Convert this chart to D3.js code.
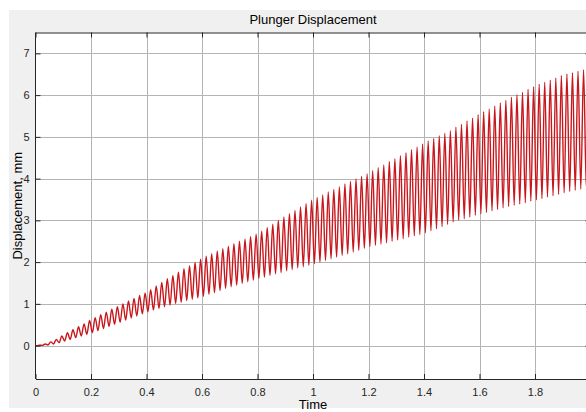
<!DOCTYPE html>
<html><head><meta charset="utf-8">
<script src="https://cdn.jsdelivr.net/npm/d3@7/dist/d3.min.js"></script>
<style>html,body{margin:0;padding:0;background:#fff;overflow:hidden}</style>
</head><body><svg id="c" width="586" height="412"></svg>
<script>
const title = "Plunger Displacement";
const xLabel = "Time";
const yLabel = "Displacement, mm";
const xTicks = [0, 0.2, 0.4, 0.6, 0.8, 1, 1.2, 1.4, 1.6, 1.8, 2];
const xTickLabels = ["0","0.2","0.4","0.6","0.8","1","1.2","1.4","1.6","1.8",""];
const yTicks = [0,1,2,3,4,5,6,7];
const xDomain = [0, 2];
const yDomain = [-0.8, 7.5];
// oscillation: period (s) and first trough/peak times
const period = 0.02;
const firstTrough = 0.005;
const firstPeak = 0.015;
// peak values read per cycle
const peaks = [
0.01,0.04,0.09,0.15,0.23, 0.31,0.38,0.45,0.52,0.60, 0.67,0.74,0.80,0.87,0.93, 1.00,1.07,1.13,1.20,1.26,
1.34,1.43,1.51,1.60,1.68, 1.76,1.84,1.91,1.99,2.07, 2.14,2.20,2.26,2.32,2.38, 2.44,2.50,2.55,2.61,2.67,
2.74,2.83,2.91,3.00,3.08, 3.16,3.24,3.32,3.40,3.48, 3.55,3.61,3.68,3.74,3.80, 3.87,3.93,3.99,4.05,4.11,
4.19,4.26,4.33,4.41,4.48, 4.55,4.62,4.69,4.76,4.83, 4.90,4.96,5.03,5.09,5.15, 5.23,5.30,5.38,5.45,5.53,
5.60,5.67,5.74,5.81,5.88, 5.95,6.01,6.07,6.14,6.20, 6.26,6.31,6.36,6.41,6.47, 6.51,6.54,6.57,6.61,6.64];
// trough values read per cycle
const troughs = [
0.00,0.005,0.015,0.04,0.07, 0.11,0.15,0.19,0.23,0.27, 0.31,0.36,0.41,0.46,0.51, 0.56,0.61,0.66,0.71,0.76,
0.81,0.85,0.89,0.93,0.97, 1.01,1.04,1.08,1.11,1.14, 1.18,1.23,1.27,1.32,1.37, 1.41,1.45,1.49,1.53,1.57,
1.61,1.64,1.68,1.72,1.75, 1.79,1.82,1.86,1.89,1.92, 1.96,2.00,2.04,2.08,2.12, 2.16,2.20,2.24,2.28,2.33,
2.37,2.40,2.43,2.46,2.50, 2.53,2.56,2.60,2.63,2.66, 2.70,2.75,2.80,2.85,2.90, 2.96,3.00,3.04,3.08,3.12,
3.16,3.19,3.23,3.26,3.30, 3.33,3.36,3.39,3.42,3.46, 3.49,3.52,3.56,3.59,3.62, 3.66,3.69,3.72,3.75,3.78];

const pts = [[0,0]];
troughs.forEach((v,i)=>{
  pts.push([firstTrough + i*period, v]);
  pts.push([firstPeak + i*period, peaks[i]]);
});

const svg = d3.select("#c");
const W = 586, H = 412;
const m = {l:35.5, t:32.5, r:590.5, b:379};

svg.append("rect").attr("x",9).attr("y",10).attr("width",W-9).attr("height",398).attr("fill","#f0f0f0");

const x = d3.scaleLinear().domain(xDomain).range([m.l, m.r]);
const y = d3.scaleLinear().domain(yDomain).range([m.b, m.t]);

svg.append("rect").attr("x",m.l).attr("y",m.t).attr("width",m.r-m.l).attr("height",m.b-m.t).attr("fill","#fff");

const grid = svg.append("g").attr("stroke","#b4b4b4").attr("stroke-width",1);
xTicks.slice(1,-1).forEach(t=>grid.append("line").attr("x1",Math.round(x(t))+0.5).attr("x2",Math.round(x(t))+0.5).attr("y1",m.t).attr("y2",m.b));
yTicks.forEach(t=>grid.append("line").attr("y1",Math.round(y(t))+0.5).attr("y2",Math.round(y(t))+0.5).attr("x1",m.l).attr("x2",m.r));

const line = d3.line().x(d=>x(d[0])).y(d=>y(d[1])).curve(d3.curveMonotoneX);
svg.append("path").datum(pts).attr("d",line).attr("fill","none").attr("stroke","#c8161c").attr("stroke-width",1.4);

const font = "Liberation Sans, Arial, Helvetica, sans-serif";
const xAx = d3.axisBottom(x).tickValues(xTicks).tickFormat((d,i)=>xTickLabels[i]).tickSizeInner(-5).tickSizeOuter(0).tickPadding(9);
const gx = svg.append("g").attr("transform",`translate(0,${m.b})`).call(xAx);
const xTop = d3.axisTop(x).tickValues(xTicks).tickFormat("").tickSizeInner(-5).tickSizeOuter(0);
const gxt = svg.append("g").attr("transform",`translate(0,${m.t})`).call(xTop);
const yAx = d3.axisLeft(y).tickValues(yTicks).tickSizeInner(-5).tickSizeOuter(0).tickPadding(6);
const gy = svg.append("g").attr("transform",`translate(${m.l},0)`).call(yAx);
const yRight = d3.axisRight(y).tickValues(yTicks).tickFormat("").tickSizeInner(-5).tickSizeOuter(0);
const gyr = svg.append("g").attr("transform",`translate(${m.r},0)`).call(yRight);
[gx,gxt,gy,gyr].forEach(g=>{
  g.selectAll(".domain").attr("stroke","#262626");
  g.selectAll(".tick line").attr("stroke","#262626");
  g.selectAll("text").attr("font-family",font).attr("font-size",11).attr("fill","#262626");
});
gy.selectAll(".domain").attr("d",`M0,${m.t}V${m.b}`);

svg.append("text").attr("x",(m.l+m.r)/2).attr("y",24).attr("text-anchor","middle")
  .attr("font-family",font).attr("font-size",13).attr("fill","#000").text(title);
svg.append("text").attr("x",(m.l+m.r)/2).attr("y",409).attr("text-anchor","middle")
  .attr("font-family",font).attr("font-size",13).attr("fill","#000").text(xLabel);
svg.append("text").attr("transform",`translate(22,${(m.t+m.b)/2}) rotate(-90)`).attr("text-anchor","middle")
  .attr("font-family",font).attr("font-size",13).attr("fill","#000").text(yLabel);
</script></body></html>
